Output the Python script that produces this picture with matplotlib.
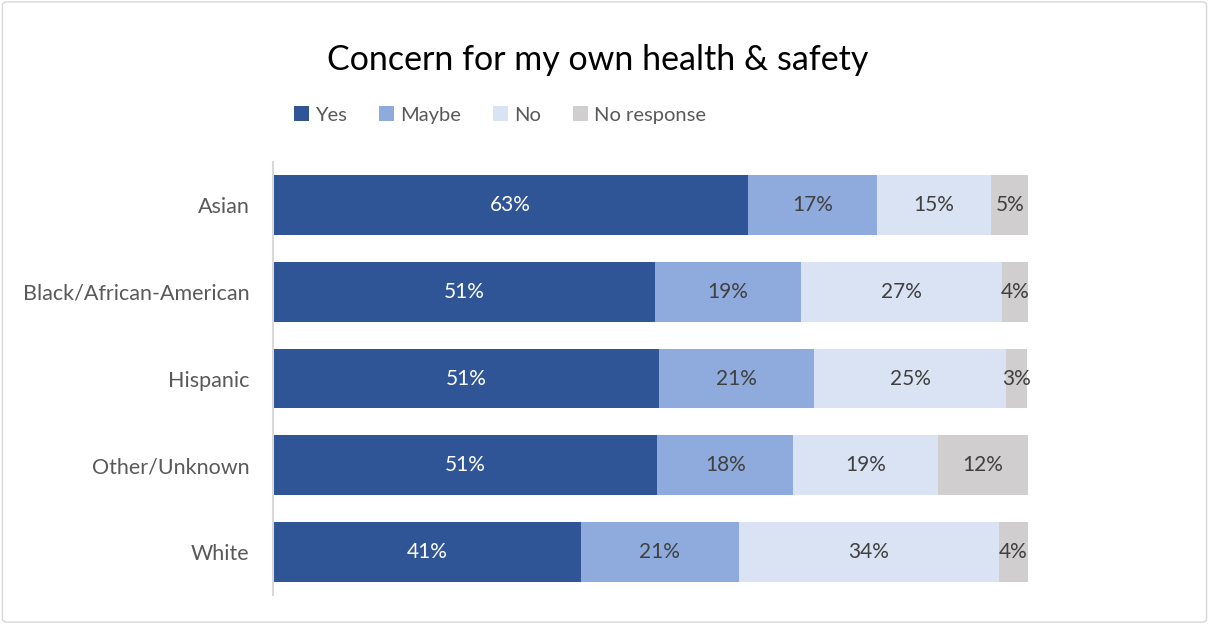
import numpy as np
import matplotlib
matplotlib.use("Agg")
import matplotlib.pyplot as plt
from matplotlib.patches import FancyBboxPatch

plt.rcParams['font.family'] = ['Lato', 'DejaVu Sans']

groups = ["Asian", "Black/African-American", "Hispanic", "Other/Unknown", "White"]
series = ["Yes", "Maybe", "No", "No response"]
yes = [62.9, 50.6, 51.1, 50.9, 40.8]
maybe = [17.1, 19.3, 20.6, 18.0, 20.9]
no = [15.1, 26.6, 25.4, 19.2, 34.4]
no_resp = [5.2, 3.6, 2.8, 11.9, 3.9]

colors = ["#2F5597", "#8FAADC", "#DAE3F3", "#D0CECE"]
text_colors = ["white", "#404040", "#404040", "#404040"]

fig = plt.figure(figsize=(12.09, 6.24), dpi=100)
ax = fig.add_axes([273 / 1209, 1 - 595 / 624, (1028 - 273) / 1209, (595 - 162) / 624])

y = np.arange(len(groups))
left = np.zeros(len(groups))
for vals, name, c, tc in zip([yes, maybe, no, no_resp], series, colors, text_colors):
    vals = np.array(vals)
    bars = ax.barh(y, vals, left=left, height=0.69, color=c, label=name)
    for b, v in zip(bars, vals):
        ax.text(b.get_x() + b.get_width() / 2, b.get_y() + b.get_height() / 2,
                f"{v:.0f}%", ha="center", va="center", color=tc, fontsize=15)
    left += vals

ax.set_xlim(0, 100)
ax.set_ylim(len(groups) - 0.5, -0.5)
ax.set_yticks(y)
ax.set_yticklabels(groups, fontsize=15.5, color="#595959")
ax.tick_params(axis="y", length=0, pad=17)
ax.set_xticks([])
for s in ["top", "right", "bottom"]:
    ax.spines[s].set_visible(False)
ax.spines["left"].set_color("#D9D9D9")
ax.spines["left"].set_linewidth(1.5)

fig.text(598 / 1209, 1 - 60 / 624, "Concern for my own health & safety",
         ha="center", va="center", fontsize=24.5, color="black")

fig.legend(loc="center", bbox_to_anchor=(500 / 1209, 1 - 115 / 624), ncol=4,
           frameon=False, fontsize=14.5, handlelength=0.75, handleheight=0.75,
           handletextpad=0.3, columnspacing=1.6, labelcolor="#595959")

border = FancyBboxPatch((0.002, 0.003), 0.996, 0.994, boxstyle="round,pad=0,rounding_size=0.005",
                        transform=fig.transFigure, fill=False, edgecolor="#D9D9D9", linewidth=1)
fig.patches.append(border)

fig.savefig("out.png", dpi=100)
